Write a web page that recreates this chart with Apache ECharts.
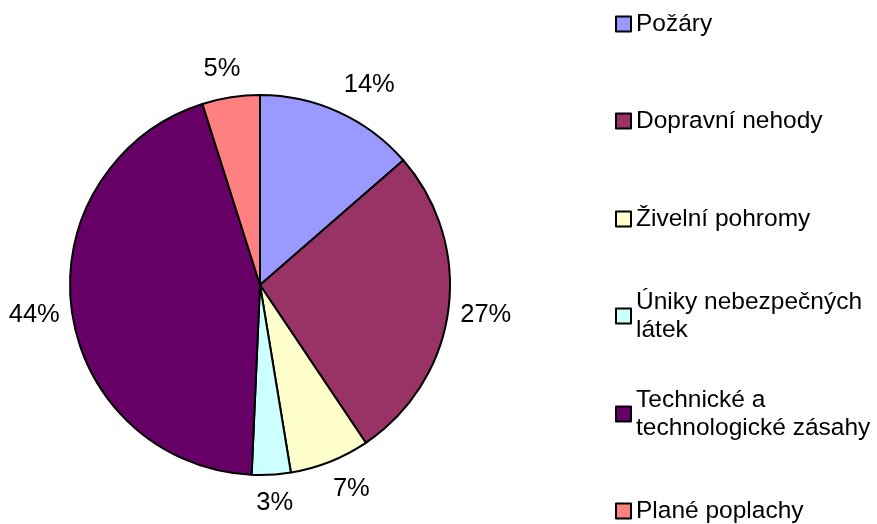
<!DOCTYPE html>
<html>
<head>
<meta charset="utf-8">
<script src="https://cdn.jsdelivr.net/npm/echarts@6/dist/echarts.min.js"></script>
<style>
  html, body { margin: 0; padding: 0; background: #fff; }
  #chart { width: 877px; height: 524px; }
</style>
</head>
<body>
<div id="chart"></div>
<script>
// categories (legend order = slice order, clockwise from 12 o'clock)
var categories = ['Požáry', 'Dopravní nehody', 'Živelní pohromy', 'Úniky nebezpečných látek',
                  'Technické a technologické zásahy', 'Plané poplachy'];
// how the legend breaks the long names
var legendLabels = ['Požáry', 'Dopravní nehody', 'Živelní pohromy', 'Úniky nebezpečných\nlátek',
                    'Technické a\ntechnologické zásahy', 'Plané poplachy'];
// share of each kind of call-out, in percent
var shares = [13.6, 27.0, 6.8, 3.3, 44.4, 4.9];
var colors = ['#9999FF', '#993366', '#FFFFCC', '#CCFFFF', '#660066', '#FF8080'];

var font = "'Liberation Sans', Arial, sans-serif";
var pieCenter = [260, 285];
var pieRadius = 190;
// distance from centre to the near side of a label box (horizontal / vertical)
var labelGapX = 202;
var labelGapY = 205;

var pieData = [];
for (var i = 0; i < categories.length; i++) {
    pieData.push({ name: categories[i], value: shares[i], itemStyle: { color: colors[i] } });
}
var labelData = [];
for (var i = 0; i < categories.length; i++) {
    labelData.push({ name: categories[i], value: shares[i] });
}

// one legend per entry so that every row sits where the original has it
var legends = [];
for (var i = 0; i < categories.length; i++) {
    var twoLines = legendLabels[i].indexOf('\n') >= 0;
    var firstLine = 24 + i * 97.4;
    legends.push({
        data: [categories[i]],
        orient: 'vertical',
        left: 615,
        top: Math.round(firstLine - (twoLines ? 42 : 14)),
        padding: 0,
        icon: 'rect',
        itemWidth: 15,
        itemHeight: 15,
        itemStyle: { borderColor: '#000', borderWidth: 2 },
        selectedMode: false,
        formatter: function (name) {
            return legendLabels[categories.indexOf(name)];
        },
        textStyle: {
            color: '#000',
            fontSize: 24.5,
            fontFamily: font,
            lineHeight: 28,
            padding: twoLines ? [28, 0, 0, 0] : 0
        }
    });
}

// push each percentage label out like the spreadsheet does:
// the box sits just outside the pie along the slice's middle direction
function clamp1(v) { return Math.max(-1, Math.min(1, v)); }
function placeLabel(params) {
    var r = params.labelRect;
    var mx = r.x + r.width / 2 - pieCenter[0];
    var my = r.y + r.height / 2 - pieCenter[1];
    var len = Math.sqrt(mx * mx + my * my);
    var ux = mx / len, uy = my / len;
    return {
        x: pieCenter[0] + labelGapX * ux + r.width / 2 * clamp1(ux * 2.5),
        y: pieCenter[1] + labelGapY * uy + r.height / 2 * clamp1(uy * 2),
        align: 'center',
        verticalAlign: 'middle'
    };
}

var chart = echarts.init(document.getElementById('chart'));

var option = {
    backgroundColor: '#fff',
    animation: false,
    legend: legends,
    series: [{
        // the pie itself
        type: 'pie',
        center: pieCenter,
        radius: pieRadius,
        startAngle: 90,
        clockwise: true,
        data: pieData,
        label: { show: false },
        labelLine: { show: false },
        itemStyle: { borderColor: '#000', borderWidth: 2 },
        emphasis: { disabled: true }
    }, {
        // invisible ring outside the pie that carries the percentage labels
        type: 'pie',
        center: pieCenter,
        radius: [204, 244],
        startAngle: 90,
        clockwise: true,
        silent: true,
        data: labelData,
        itemStyle: { color: 'rgba(0,0,0,0)', borderWidth: 0 },
        label: {
            show: true,
            position: 'inside',
            rotate: 0,
            color: '#000',
            fontSize: 25.5,
            fontFamily: font,
            formatter: function (p) {
                return Math.round(p.percent) + '%';
            }
        },
        labelLayout: placeLabel,
        labelLine: { show: false },
        emphasis: { disabled: true }
    }]
};

chart.setOption(option);
</script>
</body>
</html>
